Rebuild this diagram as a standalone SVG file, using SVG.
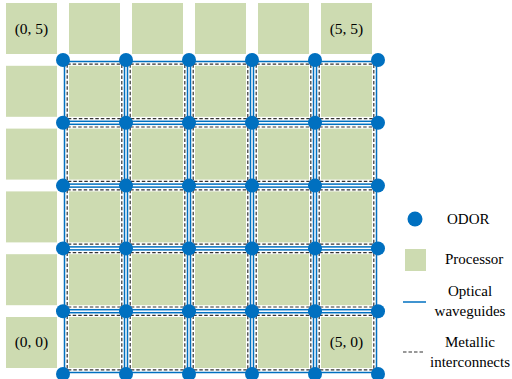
<svg xmlns="http://www.w3.org/2000/svg" xmlns:xlink="http://www.w3.org/1999/xlink" width="512" height="379" viewBox="0 0 512 379">
<style>
.p{fill:#CDDBB1}
.o{fill:#0070C0}
.wg{fill:none;stroke:#0070C0;stroke-width:1.5}
.mi{fill:none;stroke:#333333;stroke-width:1.2;stroke-dasharray:3.5 2}
</style>
<defs>
<rect id="sq" width="51" height="51"/>
<g id="cell">
<rect class="wg" x="1.5" y="1.5" width="60" height="59.8"/>
<rect class="mi" x="4.2" y="4.2" width="54.6" height="54.4"/>
</g>
<circle id="od" r="7"/>
</defs>

<g id="processors" class="p">
<g id="p_0_5"><use href="#sq" x="6" y="3"/></g>
<g id="p_1_5"><use href="#sq" x="69" y="3"/></g>
<g id="p_2_5"><use href="#sq" x="132" y="3"/></g>
<g id="p_3_5"><use href="#sq" x="195" y="3"/></g>
<g id="p_4_5"><use href="#sq" x="258" y="3"/></g>
<g id="p_5_5"><use href="#sq" x="321" y="3"/></g>
<g id="p_0_4"><use href="#sq" x="6" y="65.8"/></g>
<g id="p_1_4"><use href="#sq" x="69" y="65.8"/></g>
<g id="p_2_4"><use href="#sq" x="132" y="65.8"/></g>
<g id="p_3_4"><use href="#sq" x="195" y="65.8"/></g>
<g id="p_4_4"><use href="#sq" x="258" y="65.8"/></g>
<g id="p_5_4"><use href="#sq" x="321" y="65.8"/></g>
<g id="p_0_3"><use href="#sq" x="6" y="128.6"/></g>
<g id="p_1_3"><use href="#sq" x="69" y="128.6"/></g>
<g id="p_2_3"><use href="#sq" x="132" y="128.6"/></g>
<g id="p_3_3"><use href="#sq" x="195" y="128.6"/></g>
<g id="p_4_3"><use href="#sq" x="258" y="128.6"/></g>
<g id="p_5_3"><use href="#sq" x="321" y="128.6"/></g>
<g id="p_0_2"><use href="#sq" x="6" y="191.4"/></g>
<g id="p_1_2"><use href="#sq" x="69" y="191.4"/></g>
<g id="p_2_2"><use href="#sq" x="132" y="191.4"/></g>
<g id="p_3_2"><use href="#sq" x="195" y="191.4"/></g>
<g id="p_4_2"><use href="#sq" x="258" y="191.4"/></g>
<g id="p_5_2"><use href="#sq" x="321" y="191.4"/></g>
<g id="p_0_1"><use href="#sq" x="6" y="254.2"/></g>
<g id="p_1_1"><use href="#sq" x="69" y="254.2"/></g>
<g id="p_2_1"><use href="#sq" x="132" y="254.2"/></g>
<g id="p_3_1"><use href="#sq" x="195" y="254.2"/></g>
<g id="p_4_1"><use href="#sq" x="258" y="254.2"/></g>
<g id="p_5_1"><use href="#sq" x="321" y="254.2"/></g>
<g id="p_0_0"><use href="#sq" x="6" y="317"/></g>
<g id="p_1_0"><use href="#sq" x="69" y="317"/></g>
<g id="p_2_0"><use href="#sq" x="132" y="317"/></g>
<g id="p_3_0"><use href="#sq" x="195" y="317"/></g>
<g id="p_4_0"><use href="#sq" x="258" y="317"/></g>
<g id="p_5_0"><use href="#sq" x="321" y="317"/></g>
</g>

<g id="labels">
<text x="31.5" y="33.5" font-family="Liberation Serif" font-size="15.5" text-anchor="middle">(0, 5)</text>
<text x="346.5" y="33.5" font-family="Liberation Serif" font-size="15.5" text-anchor="middle">(5, 5)</text>
<text x="31.5" y="347" font-family="Liberation Serif" font-size="15.5" text-anchor="middle">(0, 0)</text>
<text x="346.5" y="347" font-family="Liberation Serif" font-size="15.5" text-anchor="middle">(5, 0)</text>
</g>

<g id="connectors">
<use href="#cell" x="63" y="60"/><use href="#cell" x="126" y="60"/><use href="#cell" x="189" y="60"/><use href="#cell" x="252" y="60"/><use href="#cell" x="315" y="60"/>
<use href="#cell" x="63" y="122.8"/><use href="#cell" x="126" y="122.8"/><use href="#cell" x="189" y="122.8"/><use href="#cell" x="252" y="122.8"/><use href="#cell" x="315" y="122.8"/>
<use href="#cell" x="63" y="185.6"/><use href="#cell" x="126" y="185.6"/><use href="#cell" x="189" y="185.6"/><use href="#cell" x="252" y="185.6"/><use href="#cell" x="315" y="185.6"/>
<use href="#cell" x="63" y="248.4"/><use href="#cell" x="126" y="248.4"/><use href="#cell" x="189" y="248.4"/><use href="#cell" x="252" y="248.4"/><use href="#cell" x="315" y="248.4"/>
<use href="#cell" x="63" y="311.2"/><use href="#cell" x="126" y="311.2"/><use href="#cell" x="189" y="311.2"/><use href="#cell" x="252" y="311.2"/><use href="#cell" x="315" y="311.2"/>
</g>

<g id="odors" class="o">
<g id="r_0_5"><use href="#od" x="63" y="60"/></g><g id="r_1_5"><use href="#od" x="126" y="60"/></g><g id="r_2_5"><use href="#od" x="189" y="60"/></g><g id="r_3_5"><use href="#od" x="252" y="60"/></g><g id="r_4_5"><use href="#od" x="315" y="60"/></g><g id="r_5_5"><use href="#od" x="378" y="60"/></g>
<g id="r_0_4"><use href="#od" x="63" y="122.8"/></g><g id="r_1_4"><use href="#od" x="126" y="122.8"/></g><g id="r_2_4"><use href="#od" x="189" y="122.8"/></g><g id="r_3_4"><use href="#od" x="252" y="122.8"/></g><g id="r_4_4"><use href="#od" x="315" y="122.8"/></g><g id="r_5_4"><use href="#od" x="378" y="122.8"/></g>
<g id="r_0_3"><use href="#od" x="63" y="185.6"/></g><g id="r_1_3"><use href="#od" x="126" y="185.6"/></g><g id="r_2_3"><use href="#od" x="189" y="185.6"/></g><g id="r_3_3"><use href="#od" x="252" y="185.6"/></g><g id="r_4_3"><use href="#od" x="315" y="185.6"/></g><g id="r_5_3"><use href="#od" x="378" y="185.6"/></g>
<g id="r_0_2"><use href="#od" x="63" y="248.4"/></g><g id="r_1_2"><use href="#od" x="126" y="248.4"/></g><g id="r_2_2"><use href="#od" x="189" y="248.4"/></g><g id="r_3_2"><use href="#od" x="252" y="248.4"/></g><g id="r_4_2"><use href="#od" x="315" y="248.4"/></g><g id="r_5_2"><use href="#od" x="378" y="248.4"/></g>
<g id="r_0_1"><use href="#od" x="63" y="311.2"/></g><g id="r_1_1"><use href="#od" x="126" y="311.2"/></g><g id="r_2_1"><use href="#od" x="189" y="311.2"/></g><g id="r_3_1"><use href="#od" x="252" y="311.2"/></g><g id="r_4_1"><use href="#od" x="315" y="311.2"/></g><g id="r_5_1"><use href="#od" x="378" y="311.2"/></g>
<g id="r_0_0"><use href="#od" x="63" y="374"/></g><g id="r_1_0"><use href="#od" x="126" y="374"/></g><g id="r_2_0"><use href="#od" x="189" y="374"/></g><g id="r_3_0"><use href="#od" x="252" y="374"/></g><g id="r_4_0"><use href="#od" x="315" y="374"/></g><g id="r_5_0"><use href="#od" x="378" y="374"/></g>
</g>

<g id="legend">
<g id="leg-odor"><circle class="o" cx="415" cy="219" r="7.5"/><text x="447" y="224" font-family="Liberation Serif" font-size="15">ODOR</text></g>
<g id="leg-proc"><rect class="p" x="405" y="249" width="21" height="22"/><text x="445" y="264" font-family="Liberation Serif" font-size="15">Processor</text></g>
<g id="leg-opt"><line class="wg" x1="403" y1="302" x2="426" y2="302"/><text x="470" y="296" font-family="Liberation Serif" font-size="15" text-anchor="middle">Optical</text><text x="470" y="316" font-family="Liberation Serif" font-size="15" text-anchor="middle">waveguides</text></g>
<g id="leg-met"><line class="mi" x1="403" y1="352" x2="424" y2="352"/><text x="470" y="347" font-family="Liberation Serif" font-size="15" text-anchor="middle">Metallic</text><text x="470" y="367" font-family="Liberation Serif" font-size="15" text-anchor="middle">interconnects</text></g>
</g>
</svg>
